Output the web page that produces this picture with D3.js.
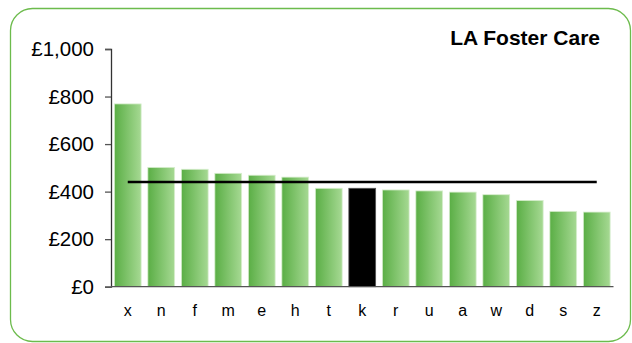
<!DOCTYPE html>
<html><head><meta charset="utf-8">
<script src="https://cdn.jsdelivr.net/npm/d3@7"></script>
<style>body{margin:0;background:#fff}svg{display:block}text{font-family:Arial,"Liberation Sans",sans-serif}</style>
</head><body><svg id="c" width="632" height="343"></svg>
<script>
const categories = ["x","n","f","m","e","h","t","k","r","u","a","w","d","s","z"];
const values = [769, 502, 494, 477, 469, 461, 414, 414, 407, 403, 398, 387, 363, 317, 314];
const highlight = "k";
const average = 440;
const yTicks = [0, 200, 400, 600, 800, 1000];
const title = "LA Foster Care";

(function(){
const svg = d3.select("#c");
const defs = svg.append("defs");
const g1 = defs.append("linearGradient").attr("id","bg").attr("x1","0").attr("x2","1").attr("y1","0").attr("y2","0");
g1.append("stop").attr("offset","0%").attr("stop-color","#5aae45");
g1.append("stop").attr("offset","100%").attr("stop-color","#a6d993");

svg.append("rect").attr("x",10.5).attr("y",8.5).attr("width",620).attr("height",333).attr("rx",22)
  .attr("fill","#fff").attr("stroke","#6cbb4c").attr("stroke-width",1.3);

const pL = 111, pR = 613.5, pT = 49, pB = 286.7;
const x = d3.scaleBand().domain(categories).range([pL, pR]).paddingInner(0.2).paddingOuter(0.1);
const y = d3.scaleLinear().domain([0, 1000]).range([pB, pT]);

svg.append("g").selectAll("rect").data(categories).join("rect")
  .attr("x", d => x(d)).attr("width", x.bandwidth())
  .attr("y", (d,i) => y(values[i])).attr("height", (d,i) => pB - y(values[i]))
  .attr("fill", d => d === highlight ? "#000" : "url(#bg)")
  .attr("stroke", d => d === highlight ? "#555" : "#d8eecf").attr("stroke-width", 0.8);

const ya = svg.append("g").attr("transform", `translate(${pL},0)`)
  .call(d3.axisLeft(y).tickValues(yTicks).tickSize(6).tickPadding(11)
    .tickFormat(d => "£" + d3.format(",")(d)));
ya.select(".domain").attr("stroke","#333").attr("stroke-width",1.3);
ya.selectAll(".tick line").attr("stroke","#555").attr("stroke-width",1.3);
ya.selectAll("text").attr("font-size",20.5).attr("fill","#000").attr("font-family","Arial,'Liberation Sans',sans-serif");

const xa = svg.append("g").attr("transform", `translate(0,${pB})`)
  .call(d3.axisBottom(x).tickSize(0).tickPadding(18));
xa.select(".domain").attr("stroke","#555").attr("stroke-width",1.3).attr("d", `M${pL},0H${pR}`);
xa.selectAll("text").attr("font-size",16).attr("fill","#000").attr("font-family","Arial,'Liberation Sans',sans-serif");

const first = categories[0], last = categories[categories.length-1];
svg.append("line")
  .attr("x1", x(first) + x.bandwidth()/2).attr("x2", x(last) + x.bandwidth()/2)
  .attr("y1", y(average)).attr("y2", y(average))
  .attr("stroke","#000").attr("stroke-width",2.5);

svg.append("text").attr("x",600).attr("y",44.5).attr("text-anchor","end")
  .attr("font-size",21).attr("font-weight","bold").text(title);
})();
</script></body></html>
